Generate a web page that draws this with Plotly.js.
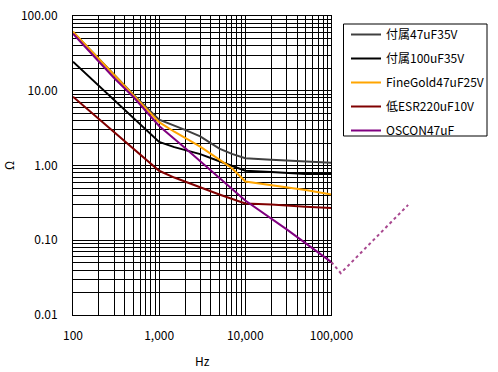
<!DOCTYPE html>
<html><head><meta charset="utf-8">
<script src="https://cdn.plot.ly/plotly-3.0.1.min.js"></script>
<style>html,body{margin:0;padding:0;background:#fff}#chart{width:498px;height:372px}</style>
</head><body><div id="chart"></div>
<script>
// ---- data (Hz, Ω) ----
const names = ['付属47uF35V', '付属100uF35V', 'FineGold47uF25V', '低ESR220uF10V', 'OSCON47uF'];

const freqGray = [100, 300, 500, 1000, 1500, 2000, 3000, 5000, 7000, 10000, 20000, 50000, 100000];
const zGray    = [61, 16.3, 8.9, 4.1, 3.44, 2.99, 2.45, 1.68, 1.43, 1.25, 1.19, 1.13, 1.09];

const freqBlack = [100, 200, 300, 500, 700, 1000, 1500, 3000, 5000, 7000, 10000, 20000, 50000, 100000];
const zBlack    = [24.5, 11.6, 7.6, 4.4, 3.05, 2.07, 1.76, 1.42, 1.14, 0.99, 0.85, 0.82, 0.77, 0.77];

const freqOrange = [100, 300, 500, 1000, 1500, 3000, 5000, 7000, 10000, 20000, 30000, 50000, 100000];
const zOrange    = [61.7, 16.3, 8.8, 3.8, 2.83, 1.79, 1.20, 0.92, 0.61, 0.55, 0.51, 0.47, 0.41];

const freqRed = [100, 300, 500, 1000, 1500, 3000, 5000, 10000, 20000, 50000, 100000];
const zRed    = [8.3, 2.8, 1.68, 0.85, 0.69, 0.51, 0.41, 0.31, 0.30, 0.28, 0.27];

const freqPurple = [100, 200, 300, 500, 1000, 2000, 5000, 10000, 30000, 100000];
const zPurple    = [58, 24.7, 14.8, 8.3, 3.38, 1.71, 0.68, 0.34, 0.141, 0.051];

// OSCON continuation beyond the plotted range (dotted, outside the frame)
const freqPurpleExt = [100000, 128500, 778000];
const zPurpleExt    = [0.051, 0.0363, 0.297];

const colors = ['#404040', '#000000', '#FFA500', '#800000', '#800080'];

// ---- ticks ----
const xTickVals = [100,200,300,400,500,600,700,800,900,
  1000,2000,3000,4000,5000,6000,7000,8000,9000,
  10000,20000,30000,40000,50000,60000,70000,80000,90000,100000];
const xTickText = ['100','','','','','','','','',
  '1,000','','','','','','','','',
  '10,000','','','','','','','','','100,000'];
const yTickVals = [0.01,0.02,0.03,0.04,0.05,0.06,0.07,0.08,0.09,
  0.1,0.2,0.3,0.4,0.5,0.6,0.7,0.8,0.9,
  1,2,3,4,5,6,7,8,9,
  10,20,30,40,50,60,70,80,90,100];
const yTickText = ['0.01','','','','','','','','',
  '0.10','','','','','','','','',
  '1.00','','','','','','','','',
  '10.00','','','','','','','','','100.00'];

const xs = [freqGray, freqBlack, freqOrange, freqRed, freqPurple];
const ys = [zGray, zBlack, zOrange, zRed, zPurple];

const traces = names.map((n, i) => ({
  type: 'scatter', mode: 'lines', name: n,
  x: xs[i], y: ys[i], legendgroup: 'g' + i,
  line: {color: colors[i], width: 2}
}));
traces.push({
  type: 'scatter', mode: 'lines', showlegend: false,
  x: freqPurpleExt, y: zPurpleExt, xaxis: 'x2', yaxis: 'y2',
  line: {color: '#a8488f', width: 2, dash: 'dot'}
});

const font = '"Noto Sans CJK JP", "Noto Sans", sans-serif';
const paperW = 425, paperH = 299, padL = 73, padT = 16;
const plotFrac = 258.4 / paperW;
const px = v => (v - padL) / paperW;
const py = v => 1 - (v - padT) / paperH;
const layout = {
  width: 498, height: 372,
  margin: {l: 73, r: 0, t: 16, b: 57},
  paper_bgcolor: '#fff', plot_bgcolor: 'rgba(0,0,0,0)',
  font: {family: font, size: 12, color: '#000'},
  showlegend: true,
  xaxis: {
    type: 'log', range: [2, 5], domain: [0, plotFrac],
    tickmode: 'array', tickvals: xTickVals, ticktext: xTickText, tickangle: 0,
    showgrid: true, gridcolor: '#000', gridwidth: 1,
    showline: true, mirror: true, linecolor: '#000', linewidth: 1,
    ticks: '', zeroline: false, ticklabelstandoff: 10,
    title: {text: 'Hz', standoff: 15, font: {size: 12}}
  },
  yaxis: {
    type: 'log', range: [-2, 2],
    tickmode: 'array', tickvals: yTickVals, ticktext: yTickText,
    showgrid: true, gridcolor: '#000', gridwidth: 1,
    showline: true, mirror: true, linecolor: '#000', linewidth: 1,
    ticks: '', zeroline: false, ticklabelstandoff: 12,
    title: {text: 'Ω', standoff: 6, font: {size: 12}}
  },
  xaxis2: {type: 'log', range: [2, 2 + paperW / (258.4 / 3)], domain: [0, 1], anchor: 'y2', visible: false},
  yaxis2: {type: 'log', range: [-2, 2], domain: [0, 1], anchor: 'x2', visible: false},
  legend: {
    x: px(346), y: py(20), xanchor: 'left', yanchor: 'top',
    bgcolor: 'rgba(0,0,0,0)', borderwidth: 0,
    font: {family: font, size: 12, color: '#000'},
    tracegroupgap: 5, itemwidth: 30
  },
  shapes: [{
    type: 'rect', xref: 'paper', yref: 'paper', layer: 'below',
    x0: px(343.5), x1: px(487), y0: py(136), y1: py(24),
    line: {color: '#000', width: 1}, fillcolor: '#fff'
  }]
};

Plotly.newPlot('chart', traces, layout, {displayModeBar: false, staticPlot: true});
</script>
</body></html>
